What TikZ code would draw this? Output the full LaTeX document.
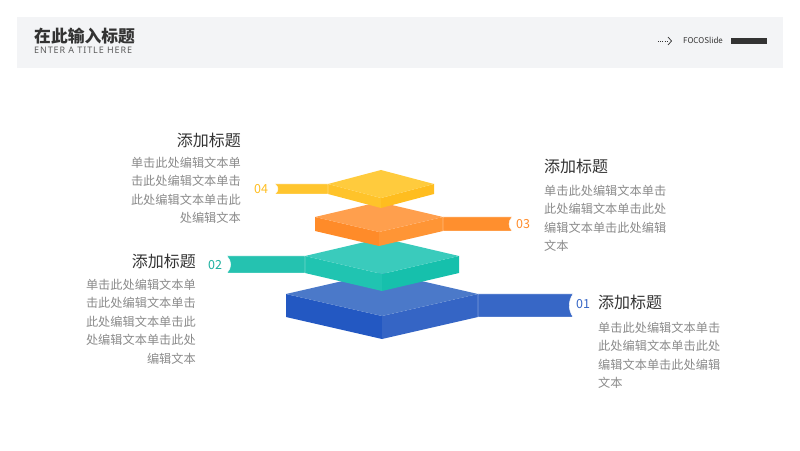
\documentclass[tikz,border=0pt]{standalone}
\usepackage{fontspec}
\setmainfont{Noto Sans CJK SC}
\newfontfamily\latinsans[LetterSpace=10]{Noto Sans}
\usepackage{tikz}
\usetikzlibrary{positioning,calc}

\definecolor{bandgray}{HTML}{F3F4F6}
\definecolor{darktxt}{HTML}{333333}
\definecolor{softtxt}{HTML}{8A8A8A}
\definecolor{blueT}{HTML}{4B79C9}
\definecolor{blueL}{HTML}{2358C2}
\definecolor{blueR}{HTML}{3565C5}
\definecolor{blueS}{HTML}{3767C6}
\definecolor{tealT}{HTML}{3ACBBC}
\definecolor{tealL}{HTML}{20C4B1}
\definecolor{tealR}{HTML}{16C0AC}
\definecolor{tealS}{HTML}{25C2B0}
\definecolor{orngT}{HTML}{FF9F4D}
\definecolor{orngL}{HTML}{FF8B29}
\definecolor{orngR}{HTML}{FF9535}
\definecolor{orngS}{HTML}{FF8F2E}
\definecolor{yllwT}{HTML}{FFCB3D}
\definecolor{yllwL}{HTML}{FFC32A}
\definecolor{yllwR}{HTML}{FFBD1F}
\definecolor{yllwS}{HTML}{FFC52E}

\begin{document}
\begin{tikzpicture}[
  x=1pt,y=1pt,
  ttl/.style={inner sep=0pt,font=\fontsize{16}{16}\selectfont,text=darktxt},
  body/.style={inner sep=0pt,font=\fontsize{12.2}{18.5}\selectfont,text=softtxt},
  num/.style={inner sep=0pt,font=\fontsize{12.5}{12.5}\selectfont},
]
  \useasboundingbox (0,0) rectangle (800,450);
  % header band
  \fill[bandgray] (17,382) rectangle (783,433);
  \node[inner sep=0pt,anchor=west,font=\fontsize{16.8}{16.8}\selectfont\bfseries,text=darktxt]
    (head) at (34,414) {在此输入标题};
  \node[inner sep=0pt,anchor=north west,font=\latinsans\fontsize{9}{9}\selectfont,
    text=darktxt!80] (sub) at ([yshift=-3pt]head.south west) {ENTER A TITLE HERE};
  \draw[darktxt,line width=0.8pt,dash pattern=on 0.8pt off 1.4pt] (658,409) -- (667,409);
  \draw[darktxt,line width=0.7pt] (668,413) -- (671.5,409) -- (668,405);
  \node[inner sep=0pt,anchor=west,font=\fontsize{8}{8}\selectfont,text=darktxt]
    (brand) at (683,409.5) {FOCOSlide};
  \fill[darktxt] (731,406) rectangle (767,412);

  % layers, bottom first
  \foreach \cx/\cy/\hw/\hh/\t/\c in {382/156/96/22/23/blue, 382/194/77/18/17/teal,
      379/233/64/15/14/orng, 381/266/53/14/10/yllw}{
    \fill[\c L] (\cx-\hw,\cy) -- (\cx,\cy-\hh) -- (\cx,\cy-\hh-\t) -- (\cx-\hw,\cy-\t) -- cycle;
    \fill[\c R] (\cx+\hw,\cy) -- (\cx,\cy-\hh) -- (\cx,\cy-\hh-\t) -- (\cx+\hw,\cy-\t) -- cycle;
    \fill[\c T] (\cx-\hw,\cy) -- (\cx,\cy+\hh) -- (\cx+\hw,\cy) -- (\cx,\cy-\hh) -- cycle;
  }

  % strips with notched ends
  \foreach \xa/\xb/\ya/\yb/\d/\c in {478/573/156/133/-5/blue, 305/227/194/177/5/teal,
      443/512/233/219/-4/orng, 328/275/266/256/4/yllw}{
    \fill[\c S,draw=white,line width=0.4pt] (\xa,\ya) -- (\xb,\ya)
      .. controls (\xb+\d,\ya-0.3*\ya+0.3*\yb) and (\xb+\d,\yb+0.3*\ya-0.3*\yb) .. (\xb,\yb)
      -- (\xa,\yb) -- cycle;
  }

  % numbers
  \node[num,text=blueR] (n1) at (583,146) {01};
  \node[num,text=tealL!90!black] (n2) at (215,185) {02};
  \node[num,text=orngL] (n3) at (523,226) {03};
  \node[num,text=yllwR] (n4) at (261,261) {04};

  % text blocks
  \node[ttl,anchor=east] (t4) at (241,310) {添加标题};
  \node[body,align=right,anchor=north east] (b4) at ([yshift=-9pt]t4.south east)
    {单击此处编辑文本单\\击此处编辑文本单击\\此处编辑文本单击此\\处编辑文本};
  \node[ttl,anchor=east] (t2) at (196,189) {添加标题};
  \node[body,align=right,anchor=north east] (b2) at ([yshift=-10pt]t2.south east)
    {单击此处编辑文本单\\击此处编辑文本单击\\此处编辑文本单击此\\处编辑文本单击此处\\编辑文本};
  \node[ttl,anchor=west] (t3) at (544,284) {添加标题};
  \node[body,align=left,anchor=north west] (b3) at ([yshift=-11pt]t3.south west)
    {单击此处编辑文本单击\\此处编辑文本单击此处\\编辑文本单击此处编辑\\文本};
  \node[ttl,anchor=west] (t1) at (598,148) {添加标题};
  \node[body,align=left,anchor=north west] (b1) at ([yshift=-12pt]t1.south west)
    {单击此处编辑文本单击\\此处编辑文本单击此处\\编辑文本单击此处编辑\\文本};
\end{tikzpicture}
\end{document}
